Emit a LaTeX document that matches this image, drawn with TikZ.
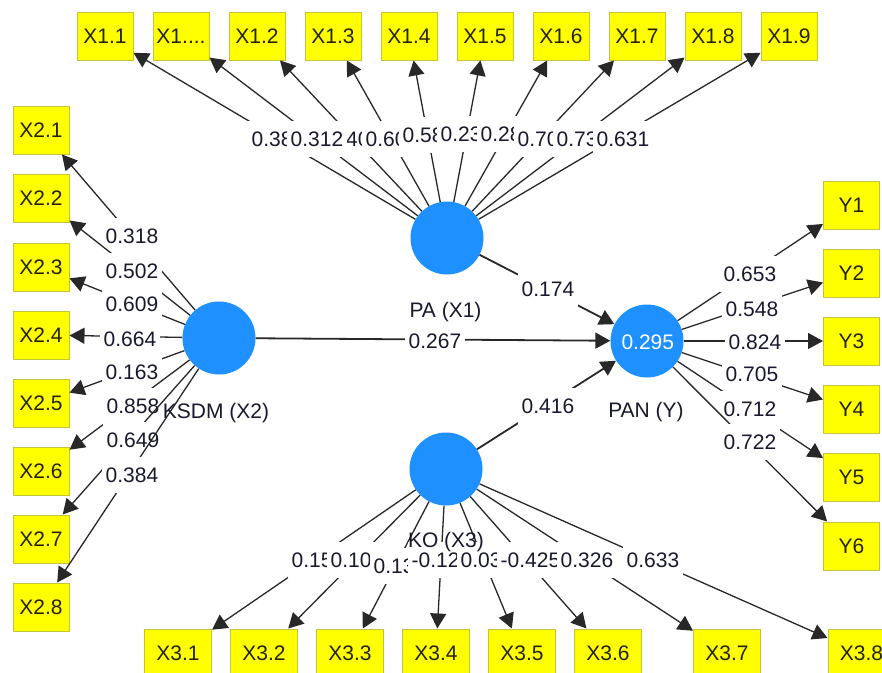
\documentclass[tikz,border=0pt]{standalone}
\usepackage{fontspec}
\setmainfont{Liberation Sans}
\usetikzlibrary{arrows.meta}
\definecolor{lvblue}{RGB}{30,144,255}
\definecolor{indy}{RGB}{255,255,0}
\definecolor{indb}{RGB}{196,196,60}
\definecolor{edgec}{RGB}{40,40,40}
\definecolor{numc}{RGB}{25,25,45}
\definecolor{boxt}{RGB}{35,35,0}
\begin{document}
\begin{tikzpicture}[x=1pt,y=-1pt,
  every node/.style={font=\fontsize{21}{25}\selectfont},
  lat/.style={circle,fill=lvblue,minimum size=73pt,inner sep=0pt},
  ind/.style={rectangle,fill=indy,draw=indb,line width=1pt,minimum width=56pt,minimum height=48pt,inner sep=0pt,text=boxt},
  indw/.style={ind,minimum width=67pt},
  ld/.style={draw=edgec,line width=1.3pt,-{Triangle[length=15pt,width=16pt]}},
  st/.style={ld,line width=1.8pt},
  lab/.style={anchor=base west,fill=white,text=numc,inner xsep=3.5pt,inner ysep=0pt,text height=25pt,text depth=11pt},
  cl/.style={anchor=base,text=numc}
]
\useasboundingbox (0,0) rectangle (882,672);
\clip (0,0) rectangle (882,672);
\fill[white] (0,0) rectangle (882,672);

% latent variables
\node[lat] (pa) at (447,238) {};
\node[lat] (ksdm) at (219,338) {};
\node[lat] (pan) at (647,341) {};
\node[lat] (ko) at (446,469) {};

% indicators top
\node[ind] (t1) at (105,36) {X1.1};
\node[ind] (t2) at (181,36) {X1....};
\node[ind] (t3) at (257,36) {X1.2};
\node[ind] (t4) at (333,36) {X1.3};
\node[ind] (t5) at (409,36) {X1.4};
\node[ind] (t6) at (485,36) {X1.5};
\node[ind] (t7) at (561,36) {X1.6};
\node[ind] (t8) at (637,36) {X1.7};
\node[ind] (t9) at (713,36) {X1.8};
\node[ind] (t10) at (789,36) {X1.9};
% indicators left
\node[ind] (l1) at (41,130) {X2.1};
\node[ind] (l2) at (41,198) {X2.2};
\node[ind] (l3) at (41,267) {X2.3};
\node[ind] (l4) at (41,335) {X2.4};
\node[ind] (l5) at (41,403) {X2.5};
\node[ind] (l6) at (41,471) {X2.6};
\node[ind] (l7) at (41,539) {X2.7};
\node[ind] (l8) at (41,607) {X2.8};
% indicators right
\node[ind] (y1) at (851.5,205) {Y1};
\node[ind] (y2) at (851.5,273) {Y2};
\node[ind] (y3) at (851.5,341) {Y3};
\node[ind] (y4) at (851.5,409) {Y4};
\node[ind] (y5) at (851.5,477) {Y5};
\node[ind] (y6) at (851.5,546) {Y6};
% indicators bottom
\node[indw] (b1) at (178,653) {X3.1};
\node[indw] (b2) at (264,653) {X3.2};
\node[indw] (b3) at (350,653) {X3.3};
\node[indw] (b4) at (436,653) {X3.4};
\node[indw] (b5) at (522,653) {X3.5};
\node[indw] (b6) at (608,653) {X3.6};
\node[indw] (b7) at (727,653) {X3.7};
\node[indw] (b8) at (861.5,653) {X3.8};

% structural paths
\draw[st] (pa) -- (pan);
\node[lab] (s1) at (518,296) {0.174};
\draw[st] (ksdm) -- (pan);
\node[lab] (s2) at (405,348) {0.267};
\draw[st] (ko) -- (pan);
\node[lab] (s3) at (518,413) {0.416};

% construct labels
\node[cl] (npa) at (445.5,317) {PA (X1)};
\node[cl] (nksdm) at (216,418) {KSDM (X2)};
\node[cl] (npan) at (646,417) {PAN (Y)};
\node[anchor=base west,text=white] (r2) at (618,349) {0.295};

% PA loadings
\draw[ld] (pa) -- (t1);  \node[lab] (lt1) at (248,146) {0.38};
\draw[ld] (pa) -- (t3);  \node[lab] (lt3) at (325,146) {0.40};
\draw[ld] (pa) -- (t2);  \node[lab] (lt2) at (287,146) {0.312};
\draw[ld] (pa) -- (t4);  \node[lab] (lt4) at (362,146) {0.60};
\draw[ld] (pa) -- (t5);  \node[lab] (lt5) at (399,142) {0.58};
\draw[ld] (pa) -- (t6);  \node[lab] (lt6) at (437,141) {0.23};
\draw[ld] (pa) -- (t7);  \node[lab] (lt7) at (477,141) {0.28};
\draw[ld] (pa) -- (t8);  \node[lab] (lt8) at (514,146) {0.70};
\draw[ld] (pa) -- (t9);  \node[lab] (lt9) at (553,146) {0.73};
\draw[ld] (pa) -- (t10); \node[lab] (lt10) at (593,146) {0.631};

% KSDM loadings
\draw[ld] (ksdm) -- (l1); \node[lab] (ll1) at (102,243) {0.318};
\draw[ld] (ksdm) -- (l2); \node[lab] (ll2) at (102,278) {0.502};
\draw[ld] (ksdm) -- (l3); \node[lab] (ll3) at (102,311) {0.609};
\draw[ld] (ksdm) -- (l4); \node[lab] (ll4) at (100,346) {0.664};
\draw[ld] (ksdm) -- (l5); \node[lab] (ll5) at (102,379) {0.163};
\draw[ld] (ksdm) -- (l6); \node[lab] (ll6) at (103,413) {0.858};
\draw[ld] (ksdm) -- (l7); \node[lab] (ll7) at (103,447) {0.649};
\draw[ld] (ksdm) -- (l8); \node[lab] (ll8) at (102,482) {0.384};

% PAN loadings
\draw[ld] (pan) -- (y1); \node[lab] (ly1) at (720,281) {0.653};
\draw[ld] (pan) -- (y2); \node[lab] (ly2) at (722,316) {0.548};
\draw[ld] (pan) -- (y3); \node[lab] (ly3) at (725,349) {0.824};
\draw[ld] (pan) -- (y4); \node[lab] (ly4) at (722,381) {0.705};
\draw[ld] (pan) -- (y5); \node[lab] (ly5) at (720,416) {0.712};
\draw[ld] (pan) -- (y6); \node[lab] (ly6) at (720,449) {0.722};

% KO loadings
\draw[ld] (ko) -- (b1); \node[lab] (lb1) at (288,567) {0.15};
\draw[ld] (ko) -- (b2); \node[lab] (lb2) at (327,567) {0.10};
\draw[ld] (ko) -- (b3); \node[lab] (lb3) at (370,573) {0.13};
\draw[ld] (ko) -- (b4); \node[lab] (lb4) at (408,567) {-0.12};
\draw[ld] (ko) -- (b5); \node[lab] (lb5) at (457,567) {0.03};
\draw[ld] (ko) -- (b6); \node[lab] (lb6) at (497,567) {-0.425};
\draw[ld] (ko) -- (b7); \node[lab] (lb7) at (557,567) {0.326};
\draw[ld] (ko) -- (b8); \node[lab] (lb8) at (623,567) {0.633};
\node[cl] (nko) at (446,547) {KO (X3)};
\end{tikzpicture}
\end{document}
